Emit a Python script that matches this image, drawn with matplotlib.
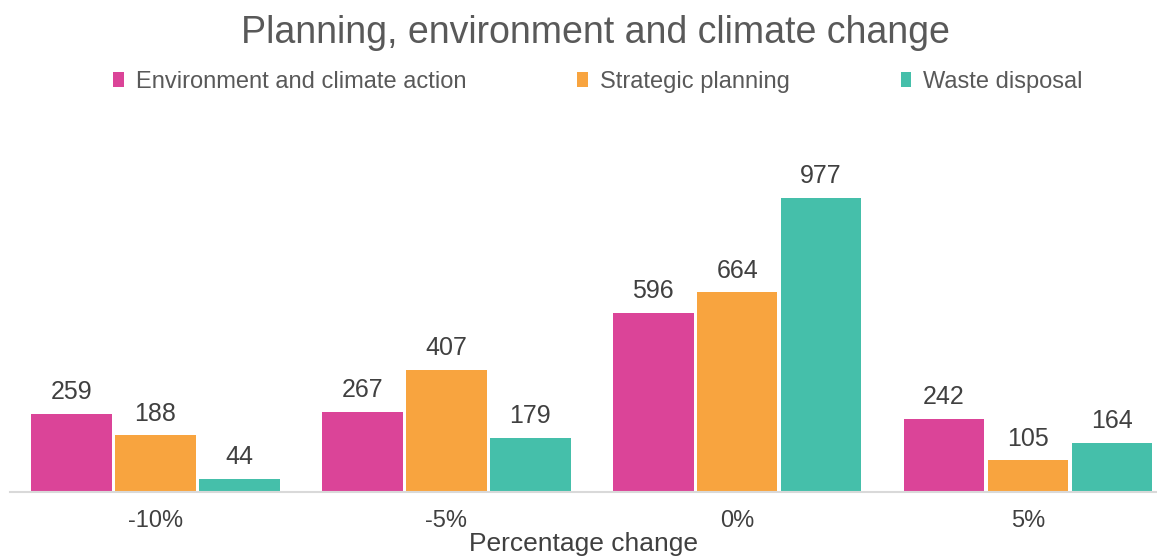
import matplotlib
matplotlib.use("Agg")
import matplotlib.pyplot as plt
import numpy as np

plt.rcParams['font.family'] = ['Liberation Sans', 'DejaVu Sans']

categories = ['-10%', '-5%', '0%', '5%']
series_names = ['Environment and climate action', 'Strategic planning', 'Waste disposal']
env_climate = [259, 267, 596, 242]
strategic = [188, 407, 664, 105]
waste = [44, 179, 977, 164]
colors = ['#DB4498', '#F8A43F', '#45BFAA']

W, H = 1157, 557
fig = plt.figure(figsize=(W / 100, H / 100), dpi=100)
ax_left, ax_right = 10, 1157
ax_bottom_px, ax_top_px = 492, 131
ax = fig.add_axes([ax_left / W, (H - ax_bottom_px) / H,
                   (ax_right - ax_left) / W, (ax_bottom_px - ax_top_px) / H])

x = np.arange(len(categories))
bw = 84 / 291
values = [env_climate, strategic, waste]
for i, (vals, name, c) in enumerate(zip(values, series_names, colors)):
    pos = x + (i - 1) * bw
    ax.bar(pos, vals, width=bw * 0.96, color=c, label=name, zorder=2)
    for p, v in zip(pos, vals):
        ax.annotate(f'{v}', (p, v), xytext=(0, 7), textcoords='offset points',
                    ha='center', va='bottom', fontsize=18, color='#404040')

ax.set_xlim(-0.5, (1157 - 155) / 291)
ax.set_ylim(0, 1200)
ax.set_xticks(x)
ax.set_xticklabels(categories, fontsize=17, color='#404040')
ax.tick_params(axis='x', length=0, pad=13)
ax.set_yticks([])
for s in ['top', 'right', 'left']:
    ax.spines[s].set_visible(False)
ax.spines['bottom'].set_color('#D9D9D9')
ax.spines['bottom'].set_linewidth(1.5)
ax.set_xlabel('Percentage change', fontsize=19, color='#404040', labelpad=0)

fig.text(595 / W, 1 - 33 / H, 'Planning, environment and climate change',
         ha='center', va='center', fontsize=27, color='#595959')
leg = fig.legend(loc='center', bbox_to_anchor=(598 / W, 1 - 82 / H), ncol=3,
                 frameon=False, fontsize=17, handlelength=0.45, handleheight=0.6,
                 handletextpad=0.5, columnspacing=4.7)
for t in leg.get_texts():
    t.set_color('#595959')

fig.savefig('out.png', dpi=100)
